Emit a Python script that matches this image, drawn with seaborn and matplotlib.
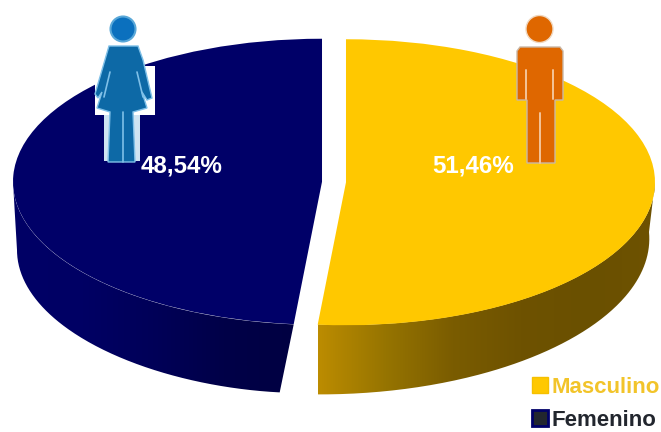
import numpy as np
import seaborn as sns
import matplotlib.pyplot as plt
from matplotlib.colors import LinearSegmentedColormap
from matplotlib.patches import Circle, Patch, Polygon, Rectangle
from matplotlib.path import Path
from matplotlib.transforms import Affine2D

# Data
labels = ['Masculino', 'Femenino']
values = [51.46, 48.54]
value_labels = ['51,46%', '48,54%']

W, H = 661, 432
GOLD = '#FFC800'
NAVY = '#000068'
PIE_X, PIE_Y = 334, 182   # pie centre in pixels
RX, RY = 309, 143         # ellipse semi axes in pixels
GAP = 12 / RX

sns.set_theme(style='white')
plt.rcParams['font.family'] = ['Liberation Sans', 'DejaVu Sans']

fig = plt.figure(figsize=(W / 100, H / 100), dpi=100)
ax = fig.add_axes([0, 0, 1, 1])
ax.axis('off')

# pixel coordinates with origin top left, for the overlays
px = Affine2D().scale(1 / W, -1 / H).translate(0, 1) + fig.transFigure


def side_wall(theta1, theta2, shift_x, slant, depth, cmap):
    # wall below the pie rim, filled with a horizontal gradient
    # slant and depth are (start, end) in pixels along the arc
    t = np.radians(np.linspace(theta1, theta2, 200))
    s = np.linspace(0, 1, 200)
    xs = shift_x + np.cos(t)
    ys = np.sin(t)
    top = np.column_stack([xs, ys])
    dx = (slant[0] + (slant[1] - slant[0]) * s ** 4) / RX
    dy = (depth[0] + (depth[1] - depth[0]) * s) / RY
    bottom = np.column_stack([xs + dx, ys - dy])[::-1]
    path = Path(np.vstack([top, bottom, top[:1]]))
    extent = [min(xs.min(), bottom[:, 0].min()), xs.max(), -3, 2]
    img = ax.imshow(np.linspace(0, 1, 256)[None, :], cmap=cmap, extent=extent,
                    aspect='auto', zorder=1)
    img.set_clip_path(path, transform=ax.transData)


# start at 12 o'clock, clockwise like the original
wedges, _ = ax.pie(values, colors=[GOLD, NAVY], startangle=90, counterclock=False,
                   explode=[GAP, GAP], radius=1, center=(0, 0),
                   wedgeprops={'linewidth': 0, 'zorder': 3})

split = 90 - values[0] * 3.6
gold_side = LinearSegmentedColormap.from_list(
    'gold_side', ['#BC8C00', '#967400', '#7A5C00', '#6E5200', '#6A5000', '#6E5200'])
navy_side = LinearSegmentedColormap.from_list(
    'navy_side', ['#000066', '#000064', '#000058', '#000048', '#000042'])
side_wall(split, 0, GAP, (0, -6), (70, 50), gold_side)
side_wall(180, split + 360, -GAP, (4, -14), (68, 68), navy_side)

ax.set_aspect('auto')
ax.set_xlim(-PIE_X / RX, (W - PIE_X) / RX)
ax.set_ylim(-(H - PIE_Y) / RY, PIE_Y / RY)

# value labels
for text, x in zip(value_labels, [473, 182]):
    ax.text(x, 166, text, transform=px, color='white', fontsize=17.4,
            fontweight='bold', ha='center', va='center', zorder=8)

# man icon
MAN = '#DF6700'
man = [(520, 47), (560, 47), (563, 51), (563, 100), (555, 100), (555, 163), (527, 163),
       (527, 100), (517, 100), (517, 51)]
ax.add_patch(Polygon(man, transform=px, fc=MAN, ec='#C9B8A8', lw=1, zorder=6))
ax.add_patch(Circle((539.5, 29), 13.5, transform=px, fc=MAN, ec='#F0D8C0', lw=1, zorder=6))
for x0, x1, y0, y1 in [(526, 526, 70, 99), (553, 553, 70, 99), (539.5, 539.5, 113, 163)]:
    ax.plot([x0, x1], [y0, y1], transform=px, color='#F4C49A', lw=1.4, zorder=7)

# woman icon, on its white box
WOMAN = '#0D69A6'
ax.add_patch(Rectangle((95, 66), 60, 49, transform=px, fc='white', ec='none', zorder=5))
ax.add_patch(Rectangle((104, 115), 36, 46, transform=px, fc='#CFE4F2', ec='none', zorder=5))
woman = [(109, 46), (138, 46), (143, 60), (152, 98), (147, 100), (142, 92), (147, 108),
         (133, 112), (135, 162), (108, 162), (110, 112), (97, 108), (102, 92), (98, 98),
         (95, 94)]
ax.add_patch(Polygon(woman, transform=px, fc=WOMAN, ec='#7FC0E8', lw=1, zorder=6))
ax.add_patch(Circle((123, 29), 12.5, transform=px, fc='#0B70BE', ec='#5AA8D8', lw=1.5, zorder=6))
ax.plot([122.5, 122.5], [112, 162], transform=px, color='#7FC0E8', lw=1.2, zorder=7)
ax.plot([110, 104], [72, 97], transform=px, color='#7FC0E8', lw=1.2, zorder=7)
ax.plot([137, 143], [72, 97], transform=px, color='#7FC0E8', lw=1.2, zorder=7)

# legend
handles = [Patch(fc=GOLD, ec='#F5C000'), Patch(fc='#22262E', ec=NAVY, lw=2)]
leg = ax.legend(handles, labels, frameon=False, loc='lower right',
                bbox_to_anchor=(1.002, -0.002),
                borderpad=0, borderaxespad=0.1, handlelength=0.72, handleheight=0.72,
                handletextpad=0.15, labelspacing=0.52,
                prop={'weight': 'bold', 'size': 16})
leg_texts = leg.get_texts()
leg_texts[0].set_color('#F2C42A')
leg_texts[1].set_color('#22262E')

fig.savefig('out.png', dpi=100)
